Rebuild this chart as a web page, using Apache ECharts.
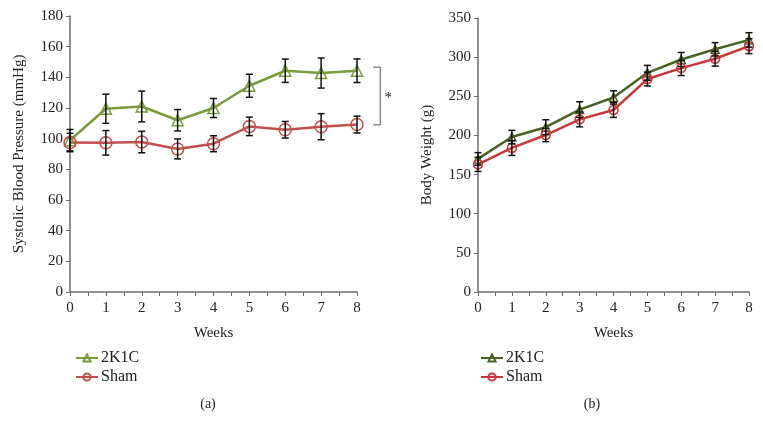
<!DOCTYPE html>
<html>
<head>
<meta charset="utf-8">
<script src="https://cdn.jsdelivr.net/npm/echarts@6/dist/echarts.min.js"></script>
<style>
  html, body { margin: 0; padding: 0; background: #fff; }
  #main { width: 763px; height: 434px; }
</style>
</head>
<body>
<div id="main"></div>
<script>
// weeks on the x axis
var weeks = [0, 1, 2, 3, 4, 5, 6, 7, 8];

// (a) systolic blood pressure, mmHg
var sbp2K1C = [99, 119.5, 121, 112, 120, 134.5, 144.3, 142.8, 144.3];
var sbp2K1CErr = [7, 9.5, 10, 7, 6.2, 7.5, 7.6, 9.8, 7.7];
var sbpSham = [97.5, 97.3, 97.8, 93.3, 96.7, 108, 105.8, 107.8, 109.2];
var sbpShamErr = [6, 8, 7, 6.5, 5.2, 6, 5.4, 8.5, 5.5];

// (b) body weight, g
var bw2K1C = [170, 198, 210.5, 233, 248.5, 280, 297, 310, 322];
var bw2K1CErr = [8, 8.5, 9.5, 10, 8.5, 9.5, 9, 8.5, 9.2];
var bwSham = [163, 184, 200.5, 220.5, 232.5, 272, 286, 298, 314];
var bwShamErr = [9, 9.5, 8.5, 9.5, 9.5, 8.8, 9.5, 9.5, 9.5];

// significance bracket beside (a): [x0, x1, yTop, yBottom]
var bracket = [[8.45, 8.65, 146.5, 109]];

var serif = '"Liberation Serif", "DejaVu Serif", serif';
var axisGray = '#6b6b6b';

function pairs(ys) {
  return weeks.map(function (w, i) { return [w, ys[i]]; });
}
function errData(ys, es) {
  return weeks.map(function (w, i) { return [w, ys[i] - es[i], ys[i] + es[i]]; });
}

function errorBars(xi, yi, ys, es) {
  return {
    type: 'custom',
    xAxisIndex: xi,
    yAxisIndex: yi,
    z: 5,
    silent: true,
    data: errData(ys, es),
    renderItem: function (params, api) {
      var lo = api.coord([api.value(0), api.value(1)]);
      var hi = api.coord([api.value(0), api.value(2)]);
      var w = 3.5;
      var st = { stroke: '#111', lineWidth: 1.5 };
      return {
        type: 'group',
        children: [
          { type: 'line', shape: { x1: lo[0], y1: lo[1], x2: hi[0], y2: hi[1] }, style: st },
          { type: 'line', shape: { x1: lo[0] - w, y1: lo[1], x2: lo[0] + w, y2: lo[1] }, style: st },
          { type: 'line', shape: { x1: hi[0] - w, y1: hi[1], x2: hi[0] + w, y2: hi[1] }, style: st }
        ]
      };
    }
  };
}

function lineSeries(name, xi, ys, color, symbol, size, lw) {
  return {
    name: name,
    type: 'line',
    xAxisIndex: xi,
    yAxisIndex: xi,
    data: pairs(ys),
    symbol: symbol,
    symbolSize: size,
    showAllSymbol: true,
    z: 3,
    lineStyle: { color: color, width: lw },
    itemStyle: { color: 'rgba(255,255,255,0)', borderColor: color, borderWidth: 1.5 }
  };
}

function xAxisCfg(gi) {
  return {
    type: 'value', gridIndex: gi, min: 0, max: 8, interval: 1,
    name: 'Weeks', nameLocation: 'middle', nameGap: 34,
    nameTextStyle: { fontFamily: serif, fontSize: 15, color: '#222' },
    axisLine: { lineStyle: { color: axisGray, width: 1.5 } },
    axisTick: { show: true, length: 4, lineStyle: { color: axisGray } },
    minorTick: { show: true, splitNumber: 2, length: 4, lineStyle: { color: axisGray } },
    splitLine: { show: false },
    axisLabel: { fontFamily: serif, fontSize: 15, color: '#222', margin: 9 }
  };
}

function yAxisCfg(gi, max, interval, name) {
  return {
    type: 'value', gridIndex: gi, min: 0, max: max, interval: interval,
    name: name, nameLocation: 'middle', nameGap: 43,
    nameTextStyle: { fontFamily: serif, fontSize: 15, color: '#222' },
    axisLine: { show: true, lineStyle: { color: axisGray, width: 1.5 } },
    axisTick: { show: true, length: 4, lineStyle: { color: axisGray } },
    splitLine: { show: false },
    axisLabel: { fontFamily: serif, fontSize: 15, color: '#222', margin: 7 }
  };
}

var chart = echarts.init(document.getElementById('main'));
chart.setOption({
  animation: false,
  backgroundColor: '#fff',
  title: [
    { text: '(a)', left: 203, top: 392, textAlign: 'center',
      textStyle: { fontFamily: serif, fontSize: 14, fontWeight: 'normal', color: '#222' } },
    { text: '(b)', left: 587, top: 392, textAlign: 'center',
      textStyle: { fontFamily: serif, fontSize: 14, fontWeight: 'normal', color: '#222' } }
  ],
  grid: [
    { left: 70, right: 406, top: 16, bottom: 142 },
    { left: 478, right: 14, top: 18, bottom: 142 }
  ],
  legend: [
    { orient: 'vertical', left: 70, top: 345, itemGap: 3, itemWidth: 22, itemHeight: 9,
      data: ['2K1C', 'Sham'],
      textStyle: { fontFamily: serif, fontSize: 16, color: '#222', padding: [0, 0, 0, -2] } },
    { orient: 'vertical', left: 475, top: 345, itemGap: 3, itemWidth: 22, itemHeight: 9,
      data: ['2K1C ', 'Sham '],
      textStyle: { fontFamily: serif, fontSize: 16, color: '#222', padding: [0, 0, 0, -2] } }
  ],
  xAxis: [xAxisCfg(0), xAxisCfg(1)],
  yAxis: [
    yAxisCfg(0, 180, 20, 'Systolic Blood Pressure (mmHg)'),
    yAxisCfg(1, 350, 50, 'Body Weight (g)')
  ],
  series: [
    lineSeries('2K1C', 0, sbp2K1C, '#7a9a3c', 'triangle', 11, 2.5),
    lineSeries('Sham', 0, sbpSham, '#c0504d', 'circle', 12, 2.5),
    errorBars(0, 0, sbp2K1C, sbp2K1CErr),
    errorBars(0, 0, sbpSham, sbpShamErr),
    lineSeries('2K1C ', 1, bw2K1C, '#4a6124', 'triangle', 8, 2.5),
    lineSeries('Sham ', 1, bwSham, '#c8373a', 'circle', 9, 2.5),
    errorBars(1, 1, bw2K1C, bw2K1CErr),
    errorBars(1, 1, bwSham, bwShamErr),
    {
      type: 'custom',
      xAxisIndex: 0,
      yAxisIndex: 0,
      silent: true,
      clip: false,
      data: bracket,
      renderItem: function (params, api) {
        var a = api.coord([api.value(0), api.value(2)]);
        var b = api.coord([api.value(1), api.value(2)]);
        var c = api.coord([api.value(1), api.value(3)]);
        var d = api.coord([api.value(0), api.value(3)]);
        return {
          type: 'group',
          children: [
            { type: 'polyline', shape: { points: [a, b, c, d] },
              style: { stroke: '#8c8c8c', lineWidth: 1.5, fill: null } },
            { type: 'text', x: b[0] + 8, y: (b[1] + c[1]) / 2 + 2,
              style: { text: '*', fontFamily: serif, fontSize: 15, fill: '#222',
                       align: 'center', verticalAlign: 'middle' } }
          ]
        };
      }
    }
  ]
});
</script>
</body>
</html>
